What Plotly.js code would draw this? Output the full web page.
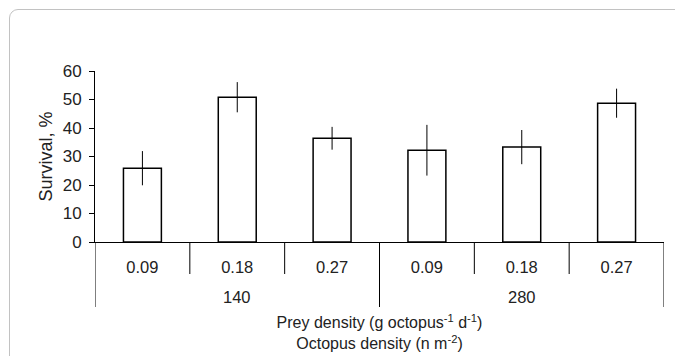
<!DOCTYPE html>
<html>
<head>
<meta charset="utf-8">
<script src="https://cdn.plot.ly/plotly-3.0.1.min.js"></script>
<style>
  html, body { margin: 0; padding: 0; background: #fff; }
  #frame { position: absolute; left: 9px; top: 9px; width: 720px; height: 420px;
           border: 1.5px solid #c2c2c2; border-radius: 9px; box-sizing: border-box; }
  #chart { position: absolute; left: 0; top: 0; width: 675px; height: 356px; }
</style>
</head>
<body>
<div id="frame"></div>
<div id="chart"></div>
<script>
const octopusDensity = ['140', '140', '140', '280', '280', '280'];
const preyDensity = ['0.09', '0.18', '0.27', '0.09', '0.18', '0.27'];
const survival = [25.9, 50.8, 36.4, 32.2, 33.3, 48.7];
const survivalErr = [6.0, 5.3, 4.0, 8.9, 6.0, 5.1];
const yTicks = [0, 10, 20, 30, 40, 50, 60];

// category positions (index along the axis)
const xIdx = preyDensity.map((_, i) => i);

// outer groups built from octopusDensity
const groups = [];
octopusDensity.forEach((g, i) => {
  const last = groups[groups.length - 1];
  if (last && last.name === g) last.end = i; else groups.push({ name: g, start: i, end: i });
});

const PLOT_H = 356 - 71 - 114;
const px = p => p / PLOT_H; // px -> paper units (vertical)

const shapes = [];
// inner dividers between prey-density categories
for (let i = 1; i < xIdx.length; i++) {
  const isOuter = groups.some(g => g.start === i);
  if (!isOuter) shapes.push({ type: 'line', xref: 'x', yref: 'paper', x0: i - 0.5, x1: i - 0.5,
    y0: 0, y1: -px(32), line: { color: '#000', width: 1 } });
}
// outer dividers (group edges)
const outerEdges = [groups[0].start - 0.5].concat(groups.map(g => g.end + 0.5));
outerEdges.forEach(e => shapes.push({ type: 'line', xref: 'x', yref: 'paper', x0: e, x1: e,
  y0: 0, y1: -px(65), line: { color: '#000', width: 1 } }));

const annotations = groups.map(g => ({
  xref: 'x', yref: 'paper', x: (g.start + g.end) / 2, y: -px(55), yanchor: 'middle',
  text: g.name, showarrow: false, font: { size: 16.5, color: '#222' }
}));

const trace = {
  type: 'bar',
  x: xIdx,
  y: survival,
  width: 0.4,
  marker: { color: '#ffffff', line: { color: '#000000', width: 1.5 } },
  error_y: { type: 'data', array: survivalErr, visible: true, color: '#000000', thickness: 1, width: 0 },
  hoverinfo: 'skip'
};

const layout = {
  width: 675, height: 356,
  margin: { l: 95, r: 11, t: 71, b: 114 },
  paper_bgcolor: 'rgba(0,0,0,0)',
  plot_bgcolor: 'rgba(0,0,0,0)',
  showlegend: false,
  font: { family: 'Liberation Sans, Arial, sans-serif', size: 16, color: '#222' },
  xaxis: {
    range: [-0.5, xIdx.length - 0.5],
    tickvals: xIdx, ticktext: preyDensity,
    showline: true, linecolor: '#000', linewidth: 1,
    ticks: 'outside', ticklen: 10, tickcolor: 'rgba(0,0,0,0)',
    tickfont: { size: 16.5, color: '#222' },
    showgrid: false, zeroline: false,
    title: { text: 'Prey density (g octopus<sup>-1</sup> d<sup>-1</sup>)<br>Octopus density (n m<sup>-2</sup>)',
             font: { size: 16, color: '#222' }, standoff: 42 }
  },
  yaxis: {
    range: [0, 60], tickvals: yTicks,
    showline: true, linecolor: '#000', linewidth: 1,
    ticks: 'outside', ticklen: 5, tickcolor: '#000',
    ticklabelstandoff: 4,
    showgrid: false, zeroline: false,
    tickfont: { size: 17, color: '#222' },
    title: { text: 'Survival, %', font: { size: 18, color: '#222' }, standoff: 5 }
  },
  shapes: shapes,
  annotations: annotations
};

Plotly.newPlot('chart', [trace], layout, { staticPlot: true, displayModeBar: false });
</script>
</body>
</html>
